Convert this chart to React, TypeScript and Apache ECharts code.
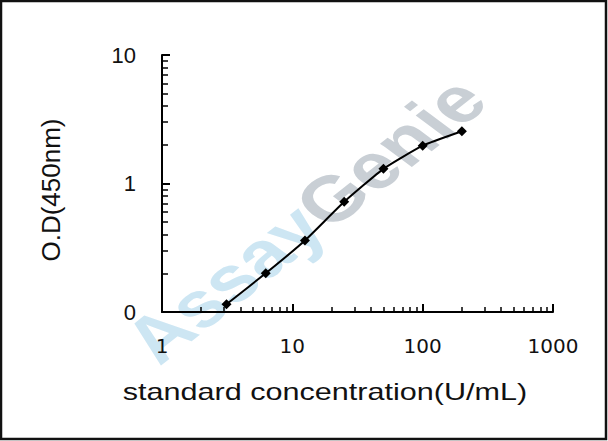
import React, { useEffect, useRef } from 'react';
import * as echarts from 'echarts';

// standard curve: concentration (U/mL) vs O.D at 450 nm
const concentrations = [3.125, 6.25, 12.5, 25, 50, 100, 200];
const odValues = [0.115, 0.2, 0.36, 0.72, 1.3, 1.97, 2.55];

const xTickValues = [1, 10, 100, 1000];
const xTickLabels = ['1', '10', '100', '1000'];
const yTickValues = [0.1, 1, 10];
const yTickLabels = ['0', '1', '10'];

const xTitle = 'standard concentration(U/mL)';
const yTitle = 'O.D(450nm)';

const pickLabel = (values: number[], labels: string[]) => (v: number) => {
  const i = values.findIndex(t => Math.abs(Math.log10(t) - Math.log10(v)) < 1e-6);
  return i >= 0 ? labels[i] : '';
};

const App: React.FC = () => {
  const chartRef = useRef<HTMLDivElement>(null);

  useEffect(() => {
    if (!chartRef.current) return;
    const chart = echarts.init(chartRef.current, undefined, { renderer: 'svg' });

    const tickStyle = { color: '#000', width: 2 };

    chart.setOption({
      animation: false,
      backgroundColor: '#fff',
      grid: { left: 162, right: 55, top: 55, bottom: 129, outerBoundsMode: 'none' },
      xAxis: {
        type: 'log',
        logBase: 10,
        min: 1,
        max: 1000,
        axisLine: { lineStyle: { color: '#000', width: 2 } },
        axisTick: { inside: true, length: 8, lineStyle: tickStyle },
        minorTick: { show: true, splitNumber: 9, length: 5, lineStyle: { color: '#000', width: 1.5 } },
        splitLine: { show: false },
        axisLabel: {
          margin: 24,
          color: '#111',
          fontSize: 20,
          fontFamily: 'DejaVu Sans',
          formatter: pickLabel(xTickValues, xTickLabels)
        }
      },
      yAxis: {
        type: 'log',
        logBase: 10,
        min: 0.1,
        max: 10,
        axisLine: { show: true, lineStyle: { color: '#000', width: 2 } },
        axisTick: { show: true, inside: true, length: 8, lineStyle: tickStyle },
        minorTick: { show: true, splitNumber: 9, length: 6, lineStyle: { color: '#000', width: 1.5 } },
        splitLine: { show: false },
        axisLabel: {
          margin: 26,
          color: '#111',
          fontSize: 22,
          fontFamily: 'Liberation Sans',
          formatter: pickLabel(yTickValues, yTickLabels)
        }
      },
      graphic: [
        {
          type: 'rect',
          z: 100,
          shape: { x: 1, y: 1, width: 605, height: 438 },
          style: { fill: 'none', stroke: '#111', lineWidth: 2.5 },
          silent: true
        },
        {
          type: 'group',
          x: 305,
          y: 220,
          scaleX: 1.3,
          z: -1,
          silent: true,
          children: [
            {
              type: 'text',
              rotation: 0.8,
              z: -1,
              style: {
                text: '{a|Assay}{g|Genie}',
                align: 'center',
                verticalAlign: 'middle',
                rich: {
                  a: { fill: '#cde6f3', font: 'bold 64px "Liberation Sans"' },
                  g: { fill: '#c9cfd5', font: 'bold 64px "Liberation Sans"' }
                }
              }
            }
          ]
        },
        {
          type: 'text',
          x: 325,
          y: 392,
          scaleX: 1.33,
          style: {
            text: xTitle,
            fill: '#111',
            font: '23px "Liberation Sans"',
            align: 'center',
            verticalAlign: 'middle'
          }
        },
        {
          type: 'text',
          x: 51,
          y: 190,
          rotation: Math.PI / 2,
          style: {
            text: yTitle,
            fill: '#111',
            font: '26px "Liberation Sans"',
            align: 'center',
            verticalAlign: 'middle'
          }
        }
      ],
      series: [
        {
          type: 'line',
          data: concentrations.map((c, i) => [c, odValues[i]]),
          smooth: 0.15,
          symbol: 'diamond',
          symbolSize: 10,
          itemStyle: { color: '#000' },
          lineStyle: { color: '#000', width: 2 },
          z: 5
        }
      ]
    });

    return () => {
      chart.dispose();
    };
  }, []);

  return (
    <div
      ref={chartRef}
      style={{ position: 'fixed', left: 0, top: 0, width: 608, height: 441, background: '#fff' }}
    />
  );
};

export default App;
